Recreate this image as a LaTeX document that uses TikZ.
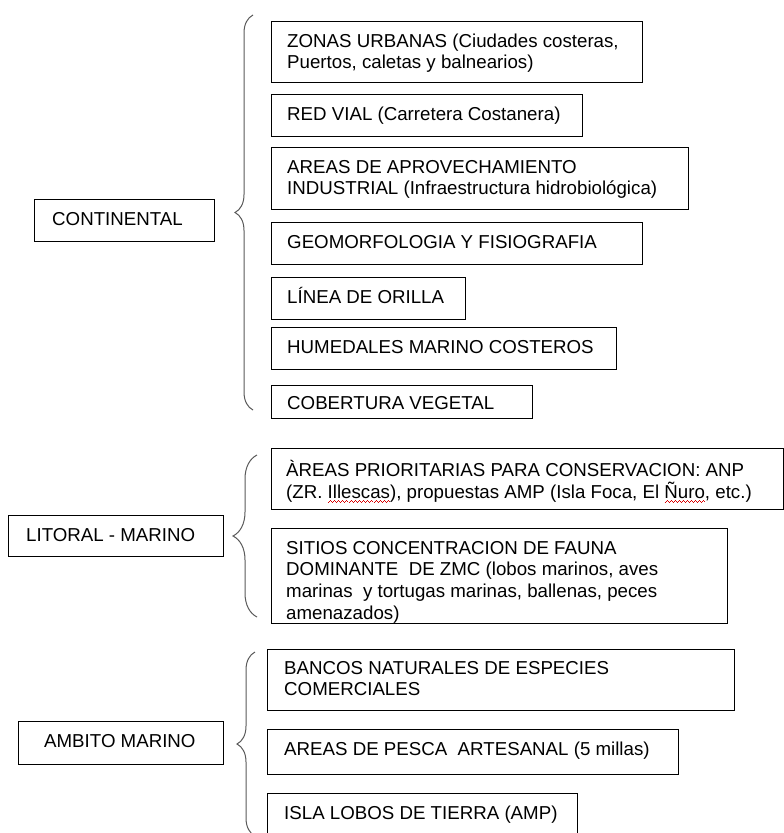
\documentclass[tikz,border=0pt]{standalone}
\usepackage{fontspec}
\setmainfont{Liberation Sans}
\usetikzlibrary{decorations.pathreplacing}
\newcommand\wavecell{\rule[-4.4pt]{1pt}{0.9pt}\rule[-3.7pt]{1pt}{0.9pt}\rule[-3.0pt]{1pt}{0.9pt}\rule[-3.7pt]{1pt}{0.9pt}}
\newcommand\redwave[1]{\setbox0\hbox{#1}\rlap{\xleaders\hbox{\textcolor{red!85!black}{\wavecell}}\hskip\wd0}\box0}
\tikzset{
  box/.style={draw=black, line width=1.3pt, inner sep=0pt, anchor=north west, rectangle},
  txt/.style={anchor=north west, inner sep=0pt, align=left, font=\fontsize{18.7}{21.6}\selectfont},
  bracestyle/.style={draw=black!65, line width=1pt, decorate},
}
\newcommand\st{\rule{0pt}{17pt}}
\begin{document}
\begin{tikzpicture}[x=1pt,y=-1pt]
\useasboundingbox (0,0) rectangle (784,833);
\clip (0,0) rectangle (784,833);
% categories
\node[box, minimum width=180, minimum height=42] (cont) at (34,199) {};
\node[txt] (contt) at ([shift={(18,9)}]cont.north west) {\st CONTINENTAL};
\node[box, minimum width=215, minimum height=41] (lit) at (8,515) {};
\node[txt] (litt) at ([shift={(18,9)}]lit.north west) {\st LITORAL - MARINO};
\node[box, minimum width=205, minimum height=43] (amb) at (18,721) {};
\node[txt] (ambt) at ([shift={(26,9)}]amb.north west) {\st AMBITO MARINO};
% continental items
\node[box, minimum width=371, minimum height=61] (b1) at (271,21) {};
\node[txt] (b1t) at ([shift={(16,9)}]b1.north west) {\st ZONAS URBANAS (Ciudades costeras,\\Puertos, caletas y balnearios)};
\node[box, minimum width=311, minimum height=42] (b2) at (271,94) {};
\node[txt] (b2t) at ([shift={(16,9.5)}]b2.north west) {\st RED VIAL (Carretera Costanera)};
\node[box, minimum width=417, minimum height=62] (b3) at (271,147) {};
\node[txt] (b3t) at ([shift={(16,9)}]b3.north west) {\st AREAS DE APROVECHAMIENTO\\INDUSTRIAL (Infraestructura hidrobiológica)};
\node[box, minimum width=371, minimum height=42] (b4) at (271,222) {};
\node[txt] (b4t) at ([shift={(16,9.5)}]b4.north west) {\st GEOMORFOLOGIA Y FISIOGRAFIA};
\node[box, minimum width=194, minimum height=42] (b5) at (271,277) {};
\node[txt] (b5t) at ([shift={(16,9.5)}]b5.north west) {\st LÍNEA DE ORILLA};
\node[box, minimum width=345, minimum height=42] (b6) at (271,327) {};
\node[txt] (b6t) at ([shift={(16,9.5)}]b6.north west) {\st HUMEDALES MARINO COSTEROS};
\node[box, minimum width=261, minimum height=33] (b7) at (271,385) {};
\node[txt] (b7t) at ([shift={(16,7)}]b7.north west) {\st COBERTURA VEGETAL};
% litoral items
\node[box, minimum width=512, minimum height=61] (b8) at (271,448) {};
\node[txt] (b8t) at ([shift={(15,11.5)}]b8.north west) {\st ÀREAS PRIORITARIAS PARA CONSERVACION: ANP\\(ZR. \redwave{Illescas}), propuestas AMP (Isla Foca, El \redwave{Ñuro}, etc.)};
\node[box, minimum width=456, minimum height=95] (b9) at (271,528) {};
\node[txt] (b9t) at ([shift={(15,9)}]b9.north west) {\st SITIOS CONCENTRACION DE FAUNA\\DOMINANTE\ \ DE ZMC (lobos marinos, aves\\marinas\ \ y tortugas marinas, ballenas, peces\\amenazados)};
% marino items
\node[box, minimum width=467, minimum height=61] (b10) at (267,649) {};
\node[txt] (b10t) at ([shift={(17,8)}]b10.north west) {\st BANCOS NATURALES DE ESPECIES\\COMERCIALES};
\node[box, minimum width=411, minimum height=45] (b11) at (267,729) {};
\node[txt] (b11t) at ([shift={(17,9)}]b11.north west) {\st AREAS DE PESCA\ \ ARTESANAL (5 millas)};
\node[box, minimum width=310, minimum height=60] (b12) at (267,793) {};
\node[txt] (b12t) at ([shift={(17,9)}]b12.north west) {\st ISLA LOBOS DE TIERRA (AMP)};
% braces
\coordinate (c1a) at (253,410); \coordinate (c1b) at (253,15);
\draw[bracestyle, decoration={brace, amplitude=18pt}] (c1a) -- (c1b);
\coordinate (c2a) at (257,617); \coordinate (c2b) at (257,455);
\draw[bracestyle, decoration={brace, amplitude=24pt}] (c2a) -- (c2b);
\coordinate (c3a) at (255,836); \coordinate (c3b) at (255,652);
\draw[bracestyle, decoration={brace, amplitude=18pt}] (c3a) -- (c3b);
\end{tikzpicture}
\end{document}
